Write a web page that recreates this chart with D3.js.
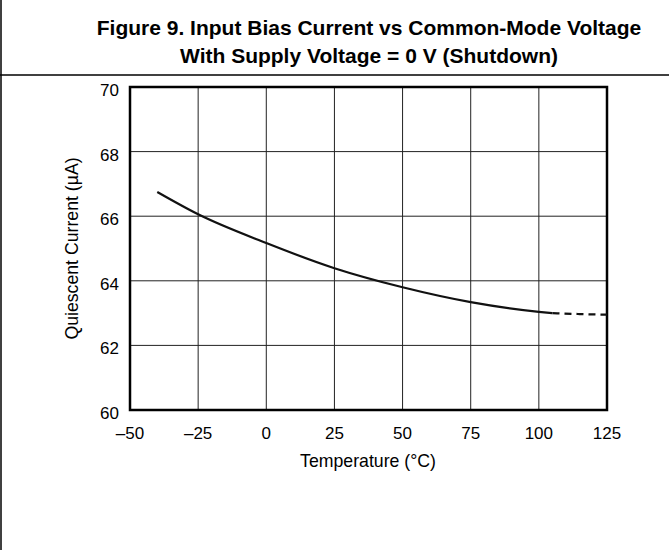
<!DOCTYPE html>
<html>
<head>
<meta charset="utf-8">
<script src="https://cdn.jsdelivr.net/npm/d3@7"></script>
<style>
  body { margin: 0; background: #fff; }
  text { font-family: "Liberation Sans", Arial, sans-serif; fill: #000; }
</style>
</head>
<body>
<svg id="chart" width="669" height="550"></svg>
<script>
"use strict";

// values
const temps = [-40, -25, 0, 25, 50, 75, 100, 105];
const current = [66.75, 66.06, 65.17, 64.39, 63.8, 63.34, 63.04, 63.0];
const dashTemps = [105, 115, 125];
const dashCurrent = [63.0, 62.97, 62.95];

const xTicks = [-50, -25, 0, 25, 50, 75, 100, 125];
const yTicks = [60, 62, 64, 66, 68, 70];
const titleLines = ["Figure 9. Input Bias Current vs Common-Mode Voltage", "With Supply Voltage = 0 V (Shutdown)"];

const svg = d3.select("#chart");
const m = { left: 130, right: 62, top: 87, bottom: 140 };
const W = 669, H = 550;

// header frame
svg.append("line").attr("x1", 1).attr("x2", 1).attr("y1", 0).attr("y2", H)
  .attr("stroke", "#000").attr("stroke-width", 1.5);
svg.append("line").attr("x1", 0).attr("x2", W).attr("y1", 75).attr("y2", 75)
  .attr("stroke", "#000").attr("stroke-width", 1.5);

svg.selectAll(".title").data(titleLines).enter().append("text")
  .attr("class", "title")
  .attr("x", 369).attr("y", (d, i) => 34.5 + i * 28)
  .attr("text-anchor", "middle")
  .style("font-size", "21px").style("font-weight", "bold")
  .text(d => d);

let x = d3.scaleLinear().domain([-50, 125]).range([m.left, W - m.right]);
let y = d3.scaleLinear().domain([60, 70]).range([H - m.bottom, m.top]);

let g = svg.append("g");

// grid
g.selectAll(".vgrid").data(xTicks.slice(1, -1)).enter().append("line")
  .attr("x1", d => x(d)).attr("x2", d => x(d))
  .attr("y1", y(70)).attr("y2", y(60))
  .attr("stroke", "#222").attr("stroke-width", 1);
g.selectAll(".hgrid").data(yTicks.slice(1, -1)).enter().append("line")
  .attr("x1", x(-50)).attr("x2", x(125))
  .attr("y1", d => y(d)).attr("y2", d => y(d))
  .attr("stroke", "#222").attr("stroke-width", 1);

// plot border
g.append("rect")
  .attr("x", x(-50)).attr("y", y(70))
  .attr("width", x(125) - x(-50)).attr("height", y(60) - y(70))
  .attr("fill", "none").attr("stroke", "#000").attr("stroke-width", 2.5);

// tick labels
g.selectAll(".xt").data(xTicks).enter().append("text")
  .attr("x", d => x(d)).attr("y", 438.5)
  .attr("text-anchor", "middle").style("font-size", "17px")
  .text(d => d < 0 ? "\u2013" + Math.abs(d) : d);
g.selectAll(".yt").data(yTicks).enter().append("text")
  .attr("x", x(-50) - 11).attr("y", d => y(d) + 9)
  .attr("text-anchor", "end").style("font-size", "17px")
  .text(d => d);

// axis titles
svg.append("text").attr("x", 368).attr("y", 467)
  .attr("text-anchor", "middle").style("font-size", "17.7px")
  .text("Temperature (\u00b0C)");
svg.append("text")
  .attr("transform", `translate(78,${(y(60) + y(70)) / 2}) rotate(-90)`)
  .attr("text-anchor", "middle").style("font-size", "17.7px")
  .text("Quiescent Current (\u00b5A)");

// curve
let line = d3.line().x(d => x(d[0])).y(d => y(d[1])).curve(d3.curveMonotoneX);
g.append("path").datum(d3.zip(temps, current))
  .attr("d", line).attr("fill", "none")
  .attr("stroke", "#111").attr("stroke-width", 2.2);
g.append("path").datum(d3.zip(dashTemps, dashCurrent))
  .attr("d", line).attr("fill", "none")
  .attr("stroke", "#111").attr("stroke-width", 2.2)
  .attr("stroke-dasharray", "7,5");
</script>
</body>
</html>
